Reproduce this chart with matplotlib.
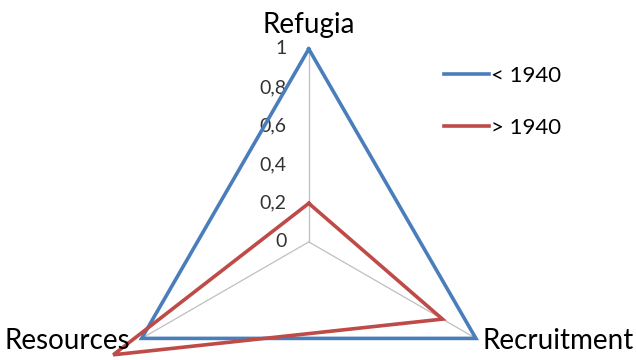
import numpy as np
import matplotlib
matplotlib.use("Agg")
import matplotlib.pyplot as plt
from matplotlib.transforms import offset_copy

plt.rcParams["font.family"] = ["Lato", "DejaVu Sans"]

categories = ["Refugia", "Recruitment", "Resources"]
series_names = ["< 1940", "> 1940"]
before_1940 = [1.0, 1.0, 1.0]
after_1940 = [0.2, 0.8, 1.17]
r_ticks = [0, 0.2, 0.4, 0.6, 0.8, 1]
r_tick_labels = ["0", "0,2", "0,4", "0,6", "0,8", "1"]

colors = ["#4a7ebb", "#be4b48"]

fig = plt.figure(figsize=(6.36, 3.6), dpi=100)
ax = fig.add_axes([0.182, -0.208, 0.607, 1.072], projection="polar")
ax.set_theta_offset(np.pi / 2)
ax.set_theta_direction(-1)
ax.set_ylim(0, 1)
ax.grid(False)
ax.spines["polar"].set_visible(False)
ax.set_xticks([]); ax.set_yticks([])
ax.patch.set_alpha(0)

theta = np.linspace(0, 2 * np.pi, len(categories), endpoint=False)

def shifted(dx, dy):
    return offset_copy(ax.transData, fig=fig, x=dx, y=dy, units="points")

# spokes
for t in theta:
    ax.plot([t, t], [0, 1], color="#bfbfbf", lw=0.9, zorder=1)

lines = []
for vals, c, name in zip([before_1940, after_1940], colors, series_names):
    th = np.append(theta, theta[0]); rr = np.append(vals, vals[0])
    ln, = ax.plot(th, rr, color=c, lw=2.6, label=name, clip_on=False, zorder=3,
                  solid_joinstyle="miter")
    lines.append(ln)

# radial tick labels, left of the vertical axis
for r, lab in zip(r_ticks, r_tick_labels):
    ax.text(0, r, lab, transform=shifted(-16, 0), ha="right", va="center",
            fontsize=14, color="#333333", zorder=2)

# category labels
ax.text(theta[0], 1, categories[0], transform=shifted(0, 8), ha="center", va="bottom",
        fontsize=20, color="black")
ax.text(theta[1], 1, categories[1], transform=shifted(5, -2), ha="left", va="center",
        fontsize=20, color="black")
ax.text(theta[2], 1, categories[2], transform=shifted(-8, -2), ha="right", va="center",
        fontsize=20, color="black")

fig.legend(handles=lines, loc="center left", bbox_to_anchor=(0.667, 0.717), frameon=False,
           fontsize=16, handlelength=2.0, handletextpad=0.1, labelspacing=1.45)

fig.savefig("out.png", dpi=100, facecolor="white")
